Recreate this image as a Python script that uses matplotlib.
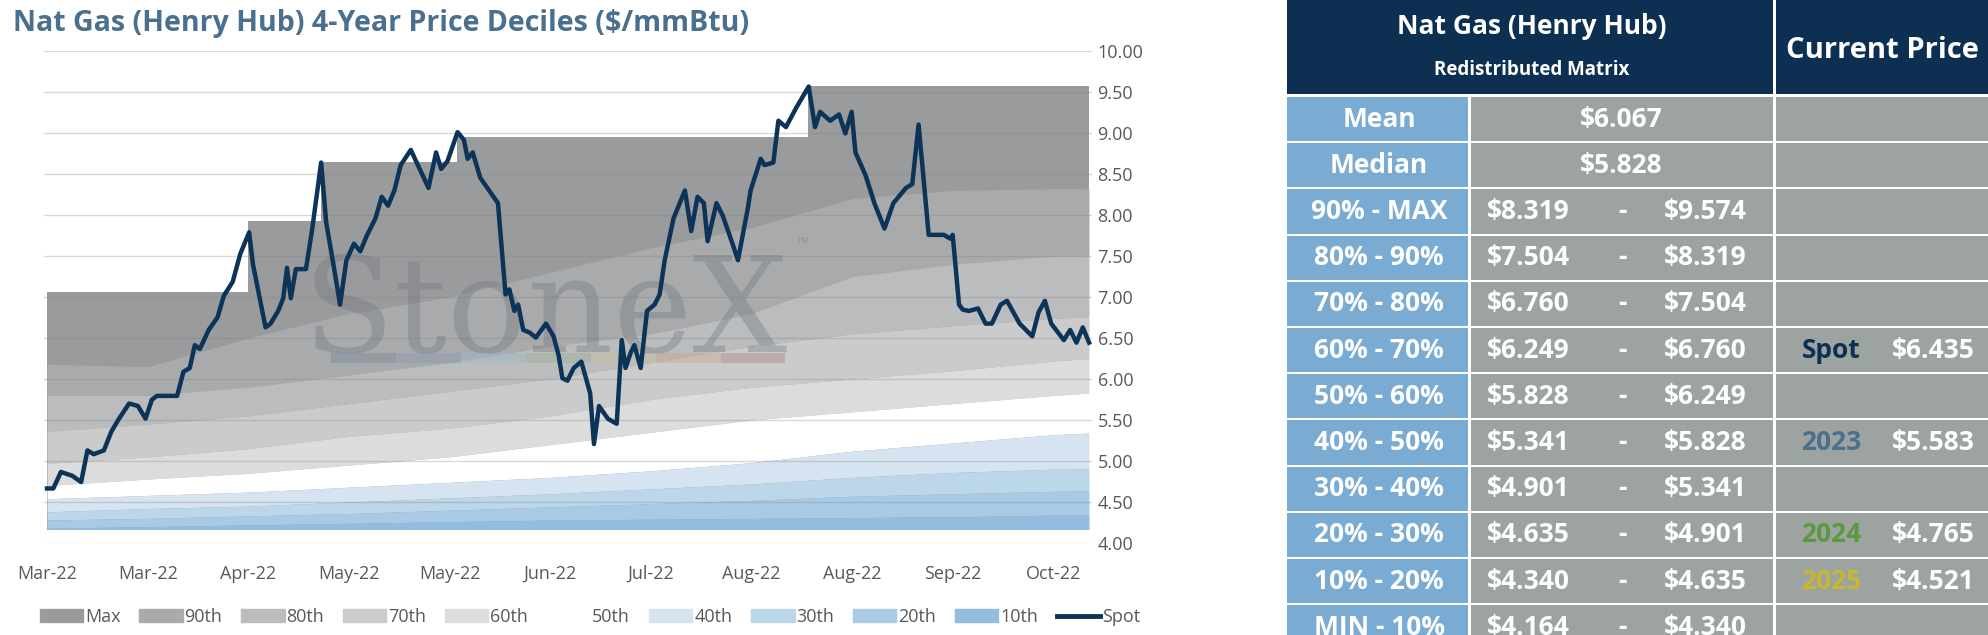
import numpy as np
import matplotlib.pyplot as plt
from matplotlib.patches import Patch, Rectangle
from matplotlib.lines import Line2D

plt.rcParams['font.family'] = ['Open Sans', 'DejaVu Sans']

# ---------------- data ----------------
tick_labels = ["Mar-22", "Mar-22", "Apr-22", "May-22", "May-22", "Jun-22",
               "Jul-22", "Aug-22", "Aug-22", "Sep-22", "Oct-22"]

# band knots (x in tick units)
band_x = [0, 1, 2, 3, 4, 5, 6, 7, 8, 9, 10, 10.35]
p90 = [6.18, 6.15, 6.50, 6.80, 7.00, 7.30, 7.60, 7.85, 8.20, 8.30, 8.32, 8.319]
p80 = [5.80, 5.80, 5.90, 6.05, 6.20, 6.40, 6.55, 6.80, 7.25, 7.40, 7.50, 7.504]
p70 = [5.36, 5.45, 5.55, 5.70, 5.85, 6.00, 6.20, 6.40, 6.55, 6.65, 6.74, 6.760]
p60 = [4.97, 5.05, 5.15, 5.30, 5.40, 5.55, 5.75, 5.90, 6.00, 6.10, 6.22, 6.249]
p50 = [4.70, 4.78, 4.85, 4.95, 5.05, 5.20, 5.35, 5.50, 5.60, 5.70, 5.80, 5.828]
p40 = [4.54, 4.58, 4.62, 4.68, 4.74, 4.80, 4.88, 4.98, 5.12, 5.22, 5.32, 5.341]
p30 = [4.38, 4.42, 4.45, 4.50, 4.55, 4.60, 4.66, 4.72, 4.80, 4.86, 4.90, 4.901]
p20 = [4.28, 4.30, 4.33, 4.36, 4.40, 4.44, 4.48, 4.52, 4.57, 4.60, 4.63, 4.635]
p10 = [4.18, 4.20, 4.22, 4.24, 4.26, 4.28, 4.29, 4.30, 4.31, 4.32, 4.34, 4.340]
pmin = [4.164] * 12

max_x = [0, 2.0, 2.0, 2.72, 2.72, 4.07, 4.07, 7.56, 7.56, 10.35]
max_v = [7.06, 7.06, 7.93, 7.93, 8.65, 8.65, 8.95, 8.95, 9.574, 9.574]

# spot trace, read in (screen-x, screen-y) pairs
spot_px = [35, 40, 46, 55, 62, 67, 72, 80, 86, 92, 100, 107, 113, 118, 122, 130, 138, 143, 148,
           152, 156, 163, 170, 175, 182, 188, 195, 198, 203, 208, 212, 218, 222, 225, 228, 232,
           240, 245, 252, 256, 262, 267, 272, 278, 283, 288, 295, 300, 305, 310, 315, 323, 330,
           337, 343, 347, 352, 360, 365, 368, 372, 378, 385, 392, 398, 401, 405, 408, 412, 417,
           422, 430, 436, 440, 443, 447, 452, 458, 465, 468, 472, 479, 486, 490, 493, 497, 500,
           505, 510, 516, 520, 524, 531, 540, 545, 550, 555, 558, 565, 570, 577, 582, 590, 592,
           600, 603, 610, 614, 620, 628, 638, 643, 647, 655, 662, 667, 672, 675, 683, 690, 698,
           705, 715, 720, 725, 733, 745, 750, 752, 757, 760, 765, 772, 778, 783, 790, 795, 805,
           815, 820, 825, 830, 840, 845, 850, 855, 860]
spot_py = [385, 385, 372, 375, 380, 355, 358, 355, 340, 330, 318, 320, 330, 315, 312, 312, 312,
           293, 290, 272, 275, 260, 250, 233, 222, 200, 183, 208, 233, 258, 255, 245, 235, 211,
           235, 212, 212, 180, 128, 175, 210, 240, 205, 192, 198, 186, 172, 155, 162, 150, 130,
           118, 133, 148, 120, 133, 127, 104, 110, 125, 120, 140, 150, 160, 232, 228, 245, 240,
           260, 262, 266, 255, 265, 280, 298, 300, 290, 285, 310, 350, 320, 330, 334, 268, 290,
           278, 272, 290, 245, 240, 232, 205, 172, 150, 182, 155, 160, 190, 160, 170, 190, 205,
           163, 150, 125, 130, 128, 95, 100, 85, 68, 100, 88, 95, 90, 105, 88, 120, 138, 160,
           180, 160, 148, 145, 98, 185, 185, 188, 185, 240, 244, 245, 243, 255, 255, 240, 237,
           255, 265, 246, 237, 255, 268, 260, 270, 258, 270]
spot_x = (np.array(spot_px) - 35) / 79.7
spot_v = 10 - (np.array(spot_py) - 40) / 64.67

band_names = ["Max", "90th", "80th", "70th", "60th", "50th", "40th", "30th", "20th", "10th"]
band_colors = ["#9a9b9d", "#a9aaac", "#bbbcbd", "#cbcbcb", "#dcdcdc", "#ffffff",
               "#d6e4f1", "#bcd6ea", "#a9cae5", "#94bcde"]

table_labels = ["Mean", "Median", "90% - MAX", "80% - 90%", "70% - 80%", "60% - 70%",
                "50% - 60%", "40% - 50%", "30% - 40%", "20% - 30%", "10% - 20%", "MIN - 10%"]
table_lo = ["$6.067", "$5.828", "$8.319", "$7.504", "$6.760", "$6.249", "$5.828",
            "$5.341", "$4.901", "$4.635", "$4.340", "$4.164"]
table_hi = ["", "", "$9.574", "$8.319", "$7.504", "$6.760", "$6.249", "$5.828",
            "$5.341", "$4.901", "$4.635", "$4.340"]
current_names = {5: "Spot", 7: "2023", 9: "2024", 10: "2025"}
current_vals = {5: "$6.435", 7: "$5.583", 9: "$4.765", 10: "$4.521"}
current_colors = {5: "#0c2f52", 7: "#4a6f8f", 9: "#5a9a3a", 10: "#c8b830"}

# ---------------- figure ----------------
W, H = 1988, 635
fig = plt.figure(figsize=(W / 100, H / 100), dpi=100)
ax = fig.add_axes([44 / W, (H - 543) / H, (1092 - 44) / W, (543 - 51) / H])

ax.fill_between(max_x, 4.164, max_v, color=band_colors[0], lw=0)
levels = [p90, p80, p70, p60, p50, p40, p30, p20, p10, pmin]
for i in range(9):
    ax.fill_between(band_x, levels[i + 1], levels[i], color=band_colors[i + 1], lw=0)

for y in np.arange(4.0, 10.01, 0.5):
    ax.axhline(y, color="#7f7f7f", lw=1, alpha=0.3, zorder=2)

ax.text(4.95, 6.78, "StoneX", fontsize=96, family="DejaVu Serif", color="#6f757b",
        alpha=0.35, ha="center", va="center", zorder=3)
ax.text(7.45, 7.6, "™", fontsize=12, color="#6f757b", alpha=0.35, zorder=3)
for k, c in enumerate(["#7a8a9a", "#8a9cb0", "#a0b8c8", "#9cb09a", "#c8c0a0", "#c8a890", "#b08888"]):
    ax.add_patch(Rectangle((2.82 + k * 0.645, 6.2), 0.645, 0.12, color=c, alpha=0.45, lw=0, zorder=3))

ax.plot(spot_x, spot_v, color="#0c3358", lw=3.2, zorder=4)

ax.set_xlim(-0.03, 10.38)
ax.set_ylim(4.0, 10.0)
ax.set_xticks(range(11))
ax.set_xticklabels(tick_labels, fontsize=13, color="#595959")
ax.set_yticks(np.arange(4.0, 10.01, 0.5))
ax.set_yticklabels([f"{v:.2f}" for v in np.arange(4.0, 10.01, 0.5)], fontsize=13, color="#595959")
ax.yaxis.tick_right()
ax.tick_params(length=0, pad=16)
ax.tick_params(axis="y", pad=4)
for s in ax.spines.values():
    s.set_visible(False)

fig.text(13 / W, 1 - 23 / H, "Nat Gas (Henry Hub) 4-Year Price Deciles (\\$/mmBtu)", fontsize=20.5,
         fontweight="bold", color="#4a6f8f", va="center")

handles = [Patch(color=c) for c in band_colors] + [Line2D([], [], color="#0c3358", lw=3.5)]
fig.legend(handles, band_names + ["Spot"], loc="center", bbox_to_anchor=(590 / W, 1 - 617 / H),
           ncol=11, frameon=False, fontsize=13, handlelength=2.4, handletextpad=0.1,
           columnspacing=1.05, labelcolor="#595959")

# ---------------- table ----------------
tx = fig.add_axes([0, 0, 1, 1])
tx.set_xlim(0, W)
tx.set_ylim(H, 0)
tx.axis("off")

c0, c1, c2 = 1287, 1471, 1776
navy = "#0c2f52"
tx.add_patch(Rectangle((c0, 0), c2 - 3 - c0, 94, color=navy, lw=0))
tx.add_patch(Rectangle((c2, 0), W - c2, 94, color=navy, lw=0))
tx.text((c0 + c2) / 2, 26, "Nat Gas (Henry Hub)", color="white", fontsize=19, fontweight="bold",
        ha="center", va="center")
tx.text((c0 + c2) / 2, 70, "Redistributed Matrix", color="white", fontsize=13.5, fontweight="bold",
        ha="center", va="center")
tx.text((c2 + W) / 2, 50, "Current Price", color="white", fontsize=21, fontweight="bold",
        ha="center", va="center")

row_h = 46.2
for i, lab in enumerate(table_labels):
    top = 97 + i * row_h
    cy = top + row_h / 2 - 1
    tx.add_patch(Rectangle((c0, top), c1 - 3 - c0, row_h - 2, color="#7aabd3", lw=0))
    tx.add_patch(Rectangle((c1, top), c2 - 3 - c1, row_h - 2, color="#9ca3a1", lw=0))
    tx.add_patch(Rectangle((c2, top), W - c2, row_h - 2, color="#9ca3a1", lw=0))
    tx.text((c0 + c1) / 2, cy, lab, color="white", fontsize=19, fontweight="bold",
            ha="center", va="center")
    lo = table_lo[i].replace("$", "\\$")
    if table_hi[i]:
        tx.text(1528, cy, lo, color="white", fontsize=19, fontweight="bold", ha="center", va="center")
        tx.text(1622, cy, "-", color="white", fontsize=19, fontweight="bold", ha="center", va="center")
        tx.text(1705, cy, table_hi[i].replace("$", "\\$"), color="white", fontsize=19,
                fontweight="bold", ha="center", va="center")
    else:
        tx.text(1621, cy, lo, color="white", fontsize=19, fontweight="bold", ha="center", va="center")
    if i in current_names:
        tx.text(1831, cy, current_names[i], color=current_colors[i], fontsize=19,
                fontweight="bold", ha="center", va="center")
        tx.text(1933, cy, current_vals[i].replace("$", "\\$"), color="white", fontsize=19,
                fontweight="bold", ha="center", va="center")

fig.savefig("out.png", dpi=100)
